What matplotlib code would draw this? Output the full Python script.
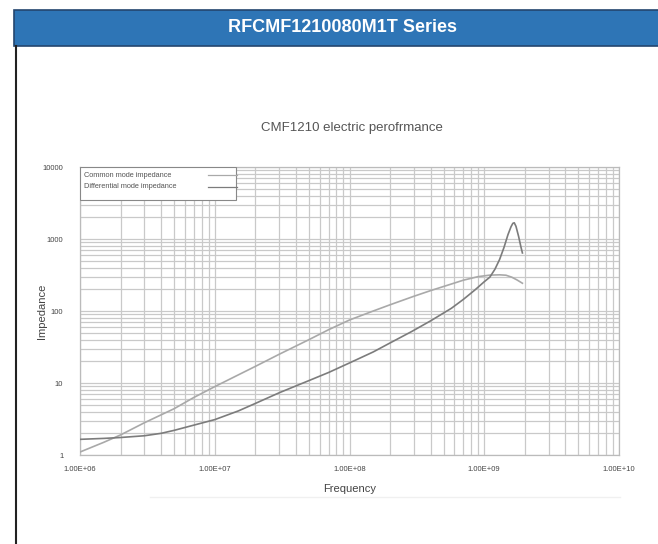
import matplotlib
matplotlib.use("Agg")
import matplotlib.pyplot as plt
from matplotlib.patches import Rectangle
from matplotlib.lines import Line2D
from matplotlib.ticker import NullFormatter, LogLocator

plt.rcParams['font.family'] = ['Liberation Sans', 'DejaVu Sans']

# --- data ---
header = "RFCMF1210080M1T Series"
title = "CMF1210 electric perofrmance"

cm_freq = [1e6, 1.5e6, 2e6, 3e6, 5e6, 7e6, 1e7, 1.5e7, 2e7, 3e7, 5e7, 7e7,
           1e8, 1.5e8, 2e8, 3e8, 4e8, 5.7e8, 7e8, 9e8, 1.1e9, 1.3e9, 1.45e9,
           1.6e9, 1.75e9, 1.92e9]
cm_imp = [1.1, 1.5, 1.9, 2.8, 4.4, 6.3, 8.9, 13, 17, 25, 40, 55,
          75, 100, 122, 160, 192, 237, 268, 300, 315, 318, 314,
          295, 270, 243]

dm_freq = [1e6, 1.5e6, 2e6, 3e6, 4e6, 5e6, 7e6, 1e7, 1.5e7, 2e7, 3e7, 5e7, 7e7,
           1e8, 1.5e8, 2e8, 2.9e8, 4e8, 5.7e8, 7e8, 8.5e8, 1e9, 1.1e9, 1.2e9,
           1.3e9, 1.4e9, 1.5e9, 1.58e9, 1.63e9, 1.67e9, 1.72e9, 1.8e9, 1.87e9, 1.92e9]
dm_imp = [1.65, 1.7, 1.75, 1.85, 2.0, 2.2, 2.6, 3.1, 4.1, 5.2, 7.3, 10.8, 14,
          19, 27, 36, 52, 73, 109, 145, 195, 255, 295, 380,
          520, 760, 1150, 1480, 1650, 1680, 1500, 1080, 780, 640]

x_ticks = [1e6, 1e7, 1e8, 1e9, 1e10]
x_labels = ["1.00E+06", "1.00E+07", "1.00E+08", "1.00E+09", "1.00E+10"]
y_ticks = [1, 10, 100, 1000, 10000]
y_labels = ["1", "10", "100", "1000", "10000"]

series_names = ["Common mode impedance", "Differential mode impedance"]
cm_color = "#a9a9a9"
dm_color = "#7c7c7c"

W, H = 658, 544
fig = plt.figure(figsize=(W / 100, H / 100), dpi=100)

# --- page decoration: blue header bar and left border ---
fig.patches.append(Rectangle((14 / W, 1 - 46 / H), 650 / W, 36 / H,
                             transform=fig.transFigure, facecolor="#2e75b6",
                             edgecolor="#24466e", linewidth=1.2))
fig.text(342 / W, 1 - 28 / H, header, color="white", fontsize=13,
         fontweight="bold", ha="center", va="center")
fig.lines.append(Line2D([16 / W, 16 / W], [0, 1 - 46 / H], transform=fig.transFigure,
                        color="#222222", linewidth=1.5))
fig.lines.append(Line2D([150 / W, 620 / W], [1 - 497 / H, 1 - 497 / H],
                        transform=fig.transFigure, color="#f0f0f0", linewidth=1))

fig.text(352 / W, 1 - 128 / H, title, color="#555555", fontsize=9.5,
         ha="center", va="center")

# --- chart ---
ax = fig.add_axes([80 / W, 1 - 455 / H, 539 / W, 288 / H])
ax.set_xscale("log")
ax.set_yscale("log")
ax.set_xlim(1e6, 1e10)
ax.set_ylim(1, 1e4)

ax.xaxis.set_minor_locator(LogLocator(base=10, subs=range(2, 10), numticks=20))
ax.yaxis.set_minor_locator(LogLocator(base=10, subs=range(2, 10), numticks=20))
ax.xaxis.set_minor_formatter(NullFormatter())
ax.yaxis.set_minor_formatter(NullFormatter())
ax.grid(True, which="both", color="#c9c9c9", linewidth=0.9)
ax.set_axisbelow(True)

ax.plot(cm_freq, cm_imp, color=cm_color, linewidth=1.2, zorder=3)
ax.plot(dm_freq, dm_imp, color=dm_color, linewidth=1.2, zorder=3)

ax.set_xticks(x_ticks)
ax.set_xticklabels(x_labels)
ax.set_yticks(y_ticks)
ax.set_yticklabels(y_labels)
ax.tick_params(which="both", length=0, labelsize=5.5, labelcolor="#444444")
ax.tick_params(axis="x", pad=8)
ax.tick_params(axis="y", pad=12)

for s in ax.spines.values():
    s.set_color("#bbbbbb")
    s.set_linewidth(0.9)

ax.set_xlabel("Frequency", fontsize=8, color="#444444")
ax.xaxis.set_label_coords(0.5, -(484 - 455) / 288)
ax.set_ylabel("Impedance", fontsize=8, color="#444444")
ax.yaxis.set_label_coords(-(80 - 47) / 539, 0.5)

# --- legend box drawn by hand (text left, sample line right) ---
box = Rectangle((0, 0.885), 0.289, 0.115, transform=ax.transAxes,
                facecolor="white", edgecolor="#888888", linewidth=0.8, zorder=5)
ax.add_patch(box)
for i, (name, col) in enumerate(zip(series_names, [cm_color, dm_color])):
    yy = 0.972 - i * 0.041
    ax.text(0.008, yy, name, transform=ax.transAxes, fontsize=5.3,
            color="#555555", va="center", ha="left", zorder=6)
    ax.add_line(Line2D([0.237, 0.292], [yy, yy], transform=ax.transAxes,
                       color=col, linewidth=0.9, zorder=6))

fig.savefig("out.png", dpi=100)
